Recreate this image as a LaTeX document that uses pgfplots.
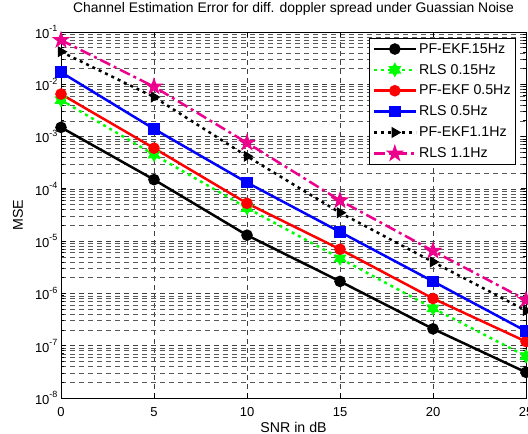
\documentclass[border=0pt]{standalone}
\usepackage{fontspec}
\setmainfont{Liberation Sans}
\usepackage{pgfplots}
\pgfplotsset{compat=1.18}
\usetikzlibrary{plotmarks}

% filled five- and six-pointed stars, as MATLAB's 'p' and 'h' markers
\pgfdeclareplotmark{pentagram*}{%
  \pgfpathmoveto{\pgfpointpolar{90}{\pgfplotmarksize}}%
  \pgfpathlineto{\pgfpointpolar{126}{0.382\pgfplotmarksize}}%
  \pgfpathlineto{\pgfpointpolar{162}{\pgfplotmarksize}}%
  \pgfpathlineto{\pgfpointpolar{198}{0.382\pgfplotmarksize}}%
  \pgfpathlineto{\pgfpointpolar{234}{\pgfplotmarksize}}%
  \pgfpathlineto{\pgfpointpolar{270}{0.382\pgfplotmarksize}}%
  \pgfpathlineto{\pgfpointpolar{306}{\pgfplotmarksize}}%
  \pgfpathlineto{\pgfpointpolar{342}{0.382\pgfplotmarksize}}%
  \pgfpathlineto{\pgfpointpolar{18}{\pgfplotmarksize}}%
  \pgfpathlineto{\pgfpointpolar{54}{0.382\pgfplotmarksize}}%
  \pgfpathclose\pgfusepathqfillstroke}
\pgfdeclareplotmark{hexagram*}{%
  \pgfpathmoveto{\pgfpointpolar{90}{\pgfplotmarksize}}%
  \pgfpathlineto{\pgfpointpolar{120}{0.577\pgfplotmarksize}}%
  \pgfpathlineto{\pgfpointpolar{150}{\pgfplotmarksize}}%
  \pgfpathlineto{\pgfpointpolar{180}{0.577\pgfplotmarksize}}%
  \pgfpathlineto{\pgfpointpolar{210}{\pgfplotmarksize}}%
  \pgfpathlineto{\pgfpointpolar{240}{0.577\pgfplotmarksize}}%
  \pgfpathlineto{\pgfpointpolar{270}{\pgfplotmarksize}}%
  \pgfpathlineto{\pgfpointpolar{300}{0.577\pgfplotmarksize}}%
  \pgfpathlineto{\pgfpointpolar{330}{\pgfplotmarksize}}%
  \pgfpathlineto{\pgfpointpolar{0}{0.577\pgfplotmarksize}}%
  \pgfpathlineto{\pgfpointpolar{30}{\pgfplotmarksize}}%
  \pgfpathlineto{\pgfpointpolar{60}{0.577\pgfplotmarksize}}%
  \pgfpathclose\pgfusepathqfillstroke}

\newcommand{\lbl}{\fontsize{14.2bp}{17bp}\selectfont}
\newcommand{\ylab}[1]{10\raisebox{0.5em}{\fontsize{9bp}{10bp}\selectfont #1}}

\begin{document}
\begin{tikzpicture}
\begin{semilogyaxis}[
    at={(61bp,36bp)}, anchor=south west,
    scale only axis, width=465bp, height=366bp,
    xmin=0, xmax=25, xtick={0,5,10,15,20,25},
    ymin=1e-8, ymax=1e-1,
    ytick={1e-8,1e-7,1e-6,1e-5,1e-4,1e-3,1e-2,1e-1},
    yticklabels={\ylab{-8},\ylab{-7},\ylab{-6},\ylab{-5},\ylab{-4},\ylab{-3},\ylab{-2},\ylab{-1}},
    /pgf/number format/assume math mode=true,
    tick label style={font=\fontsize{13bp}{15bp}\selectfont},
    xticklabel style={anchor=base, yshift=-18bp},
    axis line style={line width=1bp},
    every tick/.style={black, line width=0.8bp},
    major tick length=5bp, minor tick length=3bp,
    grid=both,
    major grid style={dash pattern=on 5bp off 4bp, black!75, line width=0.6bp},
    minor grid style={dash pattern=on 5bp off 4bp, black!65, line width=0.6bp},
    title={Channel Estimation Error for diff. doppler spread under Guassian Noise},
    title style={at={(0.5,1)}, anchor=base, yshift=14bp, font=\fontsize{13.9bp}{17bp}\selectfont},
    xlabel={SNR in dB},
    xlabel style={at={(0.5,0)}, anchor=base, yshift=-34bp, font=\lbl},
    ylabel={MSE},
    every axis y label/.style={at={(0,0.5)}, xshift=-38bp, rotate=90, anchor=base, font=\lbl},
    legend cell align=left,
    legend style={at={(1,1)}, anchor=north east, xshift=-10bp, yshift=-6bp,
        draw=black, line width=0.8bp, font=\lbl, row sep=5.5bp,
        inner xsep=3bp, inner ysep=3bp},
    legend image code/.code={%
        \draw[mark repeat=2, mark phase=2, #1]
            plot coordinates {(0bp,0bp) (21bp,0bp) (42bp,0bp)};},
    every axis plot/.append style={line width=2.5bp},
]
\addplot[black, mark=*, mark size=4.5bp, mark options={solid}] coordinates {
    (0,1.5e-3) (5,1.5e-4) (10,1.3e-5) (15,1.7e-6) (20,2.1e-7) (25,3.1e-8)};
\addlegendentry{PF-EKF.15Hz}
\addplot[green, dash pattern=on 3bp off 4bp, mark=hexagram*, mark size=6.5bp, mark options={solid, line width=1bp}] coordinates {
    (0,5e-3) (5,4.5e-4) (10,4.3e-5) (15,4.7e-6) (20,5.2e-7) (25,6.3e-8)};
\addlegendentry{RLS 0.15Hz}
\addplot[red, mark=*, mark size=4.5bp, mark options={solid}] coordinates {
    (0,6.5e-3) (5,6e-4) (10,5.3e-5) (15,7e-6) (20,8e-7) (25,1.2e-7)};
\addlegendentry{PF-EKF 0.5Hz}
\addplot[blue, mark=square*, mark size=4.5bp, mark options={solid}] coordinates {
    (0,1.7e-2) (5,1.4e-3) (10,1.32e-4) (15,1.5e-5) (20,1.7e-6) (25,1.9e-7)};
\addlegendentry{RLS 0.5Hz}
\addplot[black, dash pattern=on 3bp off 4bp, mark=triangle*, mark size=5.5bp, mark options={solid, rotate=-90, line width=1bp}] coordinates {
    (0,4.2e-2) (5,5.7e-3) (10,4.2e-4) (15,3.5e-5) (20,4e-6) (25,4.7e-7)};
\addlegendentry{PF-EKF1.1Hz}
\addplot[magenta, dash pattern=on 11bp off 4bp on 3bp off 4bp, mark=pentagram*, mark size=8bp, mark options={solid, line width=1bp}] coordinates {
    (0,7e-2) (5,9e-3) (10,7.6e-4) (15,6e-5) (20,6.5e-6) (25,7.5e-7)};
\addlegendentry{RLS 1.1Hz}
\end{semilogyaxis}
\pgfresetboundingbox
\path[use as bounding box] (0,0) rectangle (528bp,434bp);
\end{tikzpicture}
\end{document}
